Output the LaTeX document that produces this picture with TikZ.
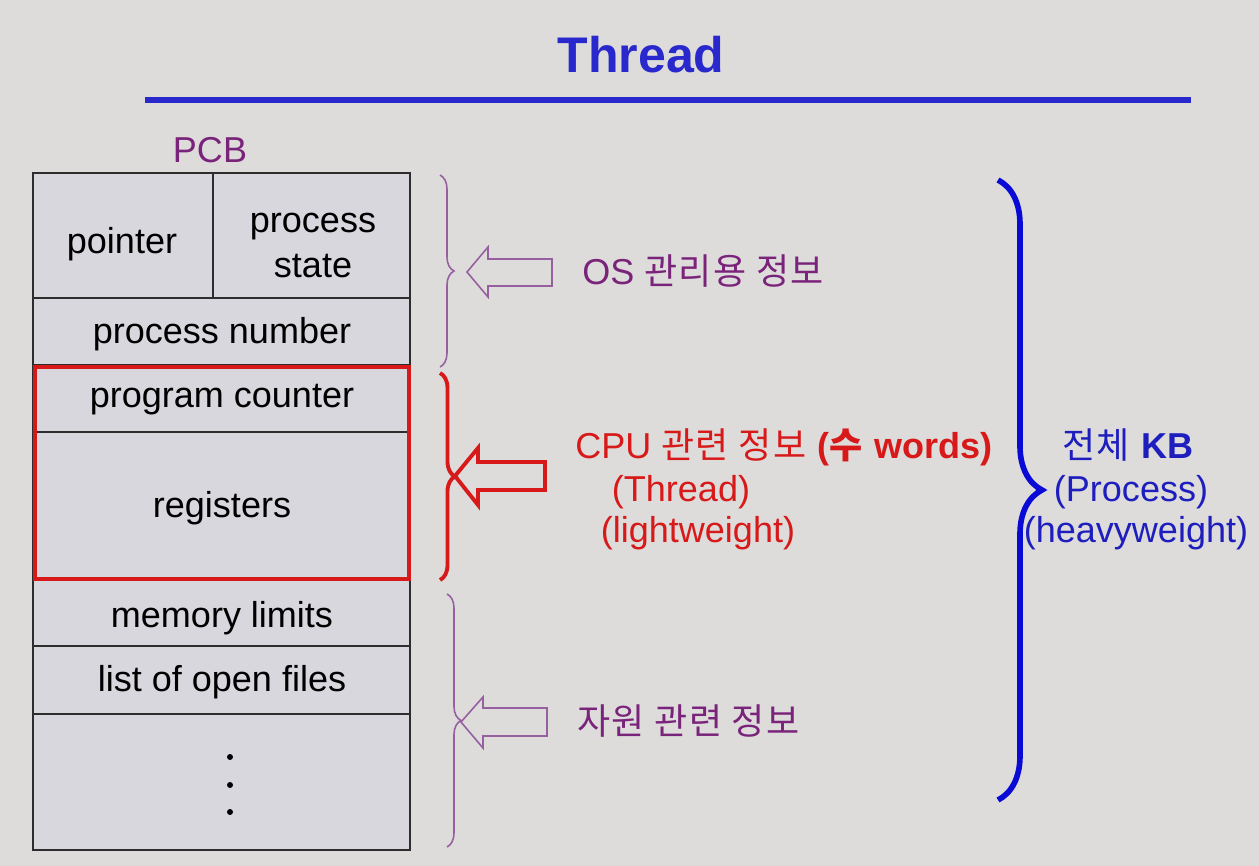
\documentclass[tikz,border=0pt]{standalone}
\usepackage{fontspec}
\setmainfont{Liberation Sans}
\newfontfamily\kr[LetterSpace=4]{Noto Sans CJK KR}
\usetikzlibrary{decorations.pathreplacing}

\definecolor{bg}{RGB}{221,220,219}
\definecolor{cellfill}{RGB}{216,215,222}
\definecolor{cellline}{RGB}{45,45,45}
\definecolor{titleblue}{RGB}{40,40,205}
\definecolor{braceblue}{RGB}{10,10,215}
\definecolor{textblue}{RGB}{30,30,190}
\definecolor{plum}{RGB}{122,35,122}
\definecolor{plumline}{RGB}{150,95,160}
\definecolor{alertred}{RGB}{215,25,25}

\begin{document}
\begin{tikzpicture}[x=0.02cm,y=-0.02cm,
  body/.style={font=\fontsize{20.5}{25.6}\selectfont},
  cell/.style={draw=cellline, fill=cellfill, line width=1.2pt,
    inner sep=0pt, minimum width=7.54cm},
  label/.style={body, inner sep=0pt},
  celltext/.style={label, anchor=base},
  hollow/.style={draw=plumline, line width=0.9pt, line join=miter},
  thinbrace/.style={draw=plumline, line width=0.9pt,
    decorate, decoration={brace, amplitude=0.28cm, aspect=0.5}},
]
% page and background
\fill[bg] (0,0) rectangle (1259,866);
\useasboundingbox (0,0) rectangle (1259,866);

% title and rule
\node[font=\fontsize{28.5}{30}\selectfont\bfseries, text=titleblue,
  anchor=base, inner sep=0pt] (title) at (641,72) {Thread};
\coordinate (ruleL) at (145,100);
\coordinate (ruleR) at (1191,100);
\draw[titleblue, line width=3.2pt] (ruleL) -- (ruleR);

% PCB table: cells
\node[label, text=plum, anchor=base] (pcb) at (210,162) {PCB};
\node[cell, minimum width=3.6cm, minimum height=2.5cm] (ptr) at (123,235.5) {};
\node[cell, minimum width=3.94cm, minimum height=2.5cm] (pst) at (311.5,235.5) {};
\node[cell, minimum height=1.34cm] (pnum) at (221.5,331.5) {};
\node[cell, minimum height=1.34cm] (pc) at (221.5,398.5) {};
\node[cell, minimum height=2.96cm] (reg) at (221.5,506) {};
\node[cell, minimum height=1.32cm] (mem) at (221.5,613) {};
\node[cell, minimum height=1.36cm] (files) at (221.5,680) {};
\node[cell, minimum height=2.72cm] (more) at (221.5,782) {};

% PCB table: field names
\node[celltext] (ptrT) at (122,253) {pointer};
\node[celltext] (pstA) at (313,232) {process};
\node[celltext] (pstB) at (313,277) {state};
\node[celltext] (pnumT) at (222,343) {process number};
\node[celltext] (pcT) at (222,407) {program counter};
\node[celltext] (regT) at (222,517) {registers};
\node[celltext] (memT) at (222,627) {memory limits};
\node[celltext] (filesT) at (222,691) {list of open files};
\foreach \dy in {-25,3,30}
  \fill (230,782+\dy) circle (3);

% thread part of the PCB
\draw[alertred, line width=2.5pt] (35,367) rectangle (409,579);

% braces beside the table
\draw[thinbrace] (440,175) -- (440,367);
\draw[alertred, line width=2.2pt, decorate,
  decoration={brace, amplitude=0.3cm}] (440,373) -- (440,580);
\draw[thinbrace] (447,594) -- (447,847);
\draw[braceblue, line width=3.2pt, decorate,
  decoration={brace, amplitude=0.88cm}] (998,180) -- (998,800);

% block arrows
\draw[hollow] (467,272) -- (488,247) -- (488,259) -- (552,259)
  -- (552,286) -- (488,286) -- (488,297) -- cycle;
\draw[hollow, draw=alertred, line width=2.2pt] (455,476) -- (478,448)
  -- (478,462) -- (545,462) -- (545,490) -- (478,490) -- (478,505) -- cycle;
\draw[hollow] (461,722) -- (483,697) -- (483,708) -- (547,708)
  -- (547,736) -- (483,736) -- (483,748) -- cycle;

% descriptions
\node[label, text=plum, anchor=base west] (os) at (582,284)
  {OS {\kr 관리용 정보}};
\node[label, text=alertred, anchor=base west] (cpu) at (575,458)
  {CPU {\kr 관련 정보} \textbf{(}{\kr\bfseries 수} \textbf{words)}};
\node[label, text=alertred, anchor=base] (thr) at (681,501) {(Thread)};
\node[label, text=alertred, anchor=base] (lw) at (698,542) {(lightweight)};
\node[label, text=plum, anchor=base west] (res) at (577,734)
  {{\kr 자원 관련 정보}};
\node[label, text=textblue, anchor=base] (kb) at (1128,458)
  {{\kr 전체} \textbf{KB}};
\node[label, text=textblue, anchor=base] (proc) at (1131,501) {(Process)};
\node[label, text=textblue, anchor=base] (hw) at (1136,542) {(heavyweight)};
\end{tikzpicture}
\end{document}
